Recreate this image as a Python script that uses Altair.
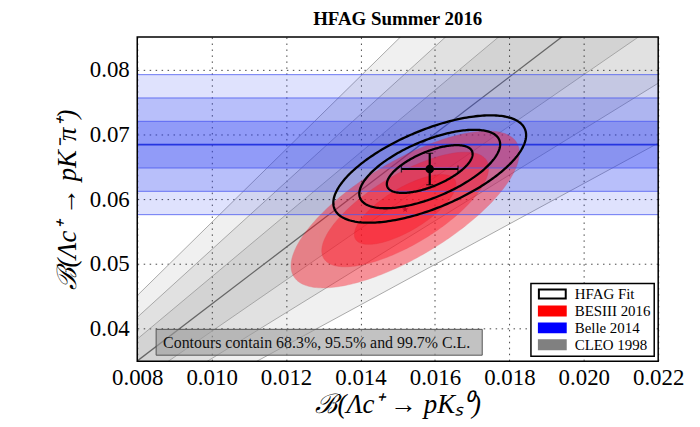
import numpy as np
import pandas as pd
import altair as alt

# ---------------- data ----------------
title_text = "HFAG Summer 2016"
x_title = "ℬ(Λc⁺ → pKₛ⁰)"
y_title = "ℬ(Λc⁺ → pK⁻π⁺)"
x_ticks = [0.008, 0.010, 0.012, 0.014, 0.016, 0.018, 0.020, 0.022]
y_ticks = [0.04, 0.05, 0.06, 0.07, 0.08]
x_domain = [0.008, 0.022]
y_domain = [0.035, 0.085]

cl_percent = [68.3, 95.5, 99.7]          # 2D contour levels
sigma_multiples = [1, 2, 3]              # 1D band levels

fit_center = [0.01586, 0.06464]          # HFAG fit (x = pKs, y = pK-pi+)
fit_sigma = [0.00076, 0.00243]
fit_rho = 0.63

besiii_center = [0.0152, 0.0584]         # BESIII 2016
besiii_sigma = [0.00090, 0.00355]
besiii_rho = 0.72

belle_center = 0.0684                    # Belle 2014, B(pK-pi+)
belle_sigma = 0.0036

cleo_ratio_center = 4.38                 # CLEO 1998, B(pK-pi+)/B(pKs)
cleo_ratio_sigma = 0.42

legend_labels = ["HFAG Fit", "BESIII 2016", "Belle 2014", "CLEO 1998"]
legend_fill = ["white", "#ff0000", "#0000ff", "#808080"]
legend_stroke = ["black", "#ff0000", "#0000ff", "#808080"]
note_text = "Contours contain 68.3%, 95.5% and 99.7% C.L."

# ---------------- geometry built from the values ----------------
W, H = 524, 326
SERIF = "Liberation Serif"
k2d = [float(np.sqrt(-2.0 * np.log(1.0 - p / 100.0))) for p in cl_percent]
x_ends = [0.0, 0.03]

xs = alt.Scale(domain=x_domain, nice=False, zero=False)
ys = alt.Scale(domain=y_domain, nice=False, zero=False)

# CLEO diagonal bands (lines through the origin)
cleo_rows = []
for m in sorted(sigma_multiples, reverse=True):
    lo = cleo_ratio_center - m * cleo_ratio_sigma
    hi = cleo_ratio_center + m * cleo_ratio_sigma
    for xv in x_ends:
        cleo_rows.append({"band": m, "x": xv, "y": lo * xv, "y2": hi * xv})
cleo_df = pd.DataFrame(cleo_rows)

cleo_line_rows = []
for j in range(-max(sigma_multiples), max(sigma_multiples) + 1):
    r = cleo_ratio_center + j * cleo_ratio_sigma
    for xv in x_ends:
        cleo_line_rows.append({"line": j, "center": j == 0, "x": xv, "y": r * xv})
cleo_line_df = pd.DataFrame(cleo_line_rows)

# Belle horizontal bands
belle_df = pd.DataFrame([
    {"band": m, "y": belle_center - m * belle_sigma, "y2": belle_center + m * belle_sigma}
    for m in sigma_multiples
])
belle_line_df = pd.DataFrame([
    {"y": belle_center + j * belle_sigma, "center": j == 0}
    for j in range(-max(sigma_multiples), max(sigma_multiples) + 1)
])

# BESIII filled ellipses (area between lower and upper chord)
def ellipse_area(center, sigma, rho, k, n=121):
    th = np.linspace(np.pi, 0.0, n)
    a = k * np.cos(th)
    half = np.sqrt(1 - rho ** 2) * np.sqrt(np.clip(k ** 2 - a ** 2, 0, None))
    return pd.DataFrame({
        "x": center[0] + a * sigma[0],
        "y": center[1] + (rho * a - half) * sigma[1],
        "y2": center[1] + (rho * a + half) * sigma[1],
    })

bes_parts = []
for k, p in sorted(zip(k2d, cl_percent), reverse=True):
    d = ellipse_area(besiii_center, besiii_sigma, besiii_rho, k)
    d["level"] = p
    bes_parts.append(d)
bes_df = pd.concat(bes_parts, ignore_index=True)

# HFAG fit contour lines
def ellipse_line(center, sigma, rho, k, n=241):
    t = np.linspace(0, 2 * np.pi, n)
    a = k * np.cos(t)
    b = k * (rho * np.cos(t) + np.sqrt(1 - rho ** 2) * np.sin(t))
    return pd.DataFrame({"x": center[0] + a * sigma[0], "y": center[1] + b * sigma[1], "t": np.arange(n)})

fit_parts = []
for k, p in zip(k2d, cl_percent):
    d = ellipse_line(fit_center, fit_sigma, fit_rho, k)
    d["level"] = p
    fit_parts.append(d)
fit_df = pd.concat(fit_parts, ignore_index=True)

fit_pt = pd.DataFrame({
    "x": [fit_center[0]], "y": [fit_center[1]],
    "xlo": [fit_center[0] - fit_sigma[0]], "xhi": [fit_center[0] + fit_sigma[0]],
    "ylo": [fit_center[1] - fit_sigma[1]], "yhi": [fit_center[1] + fit_sigma[1]],
})
fit_caps_h = pd.DataFrame({"x": [fit_center[0] - fit_sigma[0], fit_center[0] + fit_sigma[0]],
                           "y": [fit_center[1]] * 2})
fit_caps_v = pd.DataFrame({"x": [fit_center[0]] * 2,
                           "y": [fit_center[1] - fit_sigma[1], fit_center[1] + fit_sigma[1]]})
bes_pt = pd.DataFrame({"x": [besiii_center[0]], "y": [besiii_center[1]]})

# star symbol path
ang = np.arange(10) * np.pi / 5 - np.pi / 2
rad = np.where(np.arange(10) % 2 == 0, 1.0, 0.42)
star_path = "M" + "L".join(f"{r*np.cos(a):.3f},{r*np.sin(a):.3f}" for r, a in zip(rad, ang)) + "Z"

# ---------------- layers ----------------
X = lambda: alt.X("x:Q", scale=xs, title=x_title,
                  axis=alt.Axis(values=x_ticks, format=".3f", labelFlush=False, labelOverlap=False))
Y = lambda: alt.Y("y:Q", scale=ys, title=y_title,
                  axis=alt.Axis(values=y_ticks, format=".2f", labelFlush=False, labelOverlap=False))

cleo_area = alt.Chart(cleo_df).mark_area(color="black", opacity=0.06, clip=True).encode(
    x=X(), y=Y(), y2="y2:Q", detail="band:N")

cleo_lines = alt.Chart(cleo_line_df).transform_filter("!datum.center").mark_line(
    color="#a0a0a0", strokeWidth=0.9, clip=True).encode(x=X(), y=Y(), detail="line:N")
cleo_center = alt.Chart(cleo_line_df).transform_filter("datum.center").mark_line(
    color="#666666", strokeWidth=1.3, clip=True).encode(x=X(), y=Y(), detail="line:N")

belle_rect = alt.Chart(belle_df).mark_rect(color="#2a3cf2", clip=True).encode(
    x=alt.value(0), x2=alt.value(W), y=Y(), y2="y2:Q",
    opacity=alt.Opacity("band:O", scale=alt.Scale(domain=[1, 2, 3], range=[0.27, 0.15, 0.09]),
                        legend=None))

bes_area = alt.Chart(bes_df).mark_area(
    color="#ff1020", opacity=0.42, stroke="#e00010", strokeWidth=0.8, strokeOpacity=0.5,
    clip=True).encode(x=X(), y=Y(), y2="y2:Q", detail="level:N")

belle_lines = alt.Chart(belle_line_df).transform_filter("!datum.center").mark_rule(
    color="#4a5af0", strokeWidth=1.0, opacity=0.8).encode(y=Y())
belle_center_line = alt.Chart(belle_line_df).transform_filter("datum.center").mark_rule(
    color="#2535e0", strokeWidth=1.6).encode(y=Y())

bes_star = alt.Chart(bes_pt).mark_point(shape=star_path, filled=True, color="#c8102e",
                                        size=45, opacity=1).encode(x=X(), y=Y())

fit_lines = alt.Chart(fit_df).mark_line(color="black", strokeWidth=2.3, clip=True).encode(
    x=X(), y=Y(), detail="level:N", order="t:Q")

fit_xerr = alt.Chart(fit_pt).mark_rule(color="black", strokeWidth=2.2).encode(
    x=alt.X("xlo:Q", scale=xs), x2="xhi:Q", y=alt.Y("y:Q", scale=ys))
fit_yerr = alt.Chart(fit_pt).mark_rule(color="black", strokeWidth=2.2).encode(
    y=alt.Y("ylo:Q", scale=ys), y2="yhi:Q", x=alt.X("x:Q", scale=xs))
cap_h = alt.Chart(fit_caps_h).mark_tick(color="black", orient="vertical", size=7, thickness=1.3).encode(
    x=X(), y=Y())
cap_v = alt.Chart(fit_caps_v).mark_tick(color="black", orient="horizontal", size=7, thickness=1.3).encode(
    x=X(), y=Y())
fit_dot = alt.Chart(fit_pt).mark_point(filled=True, color="black", size=75, opacity=1).encode(x=X(), y=Y())

note_df = pd.DataFrame({"t": [note_text]})
note_box = alt.Chart(note_df).mark_rect(fill="#9c9c9c", fillOpacity=0.62, stroke="#555555",
                                        strokeWidth=1).encode(
    x=alt.value(19), x2=alt.value(347), y=alt.value(294), y2=alt.value(320))
note_txt = alt.Chart(note_df).mark_text(align="left", baseline="middle", font=SERIF,
                                        fontSize=16, color="#111111").encode(
    x=alt.value(26), y=alt.value(307.5), text="t:N")

frame = alt.Chart(note_df).mark_rect(fill=None, fillOpacity=0, stroke="black", strokeWidth=1.5).encode(
    x=alt.value(0), x2=alt.value(W), y=alt.value(0), y2=alt.value(H))

leg_df = pd.DataFrame({"series": legend_labels})
rect_path = "M-2.7,-0.9H2.7V0.9H-2.7Z"
leg = alt.Legend(title=None, orient="none", legendX=396, legendY=248, direction="vertical",
                 symbolType=rect_path, symbolSize=100, symbolStrokeWidth=2, symbolOffset=11,
                 labelOffset=15, labelFont=SERIF, labelFontSize=15, labelColor="black",
                 rowPadding=0, padding=3, fillColor="white", strokeColor="black", zindex=3)
legend_layer = alt.Chart(leg_df).mark_point(filled=True, clip=True, opacity=1).encode(
    x=alt.value(-200), y=alt.value(-200),
    fill=alt.Fill("series:N", scale=alt.Scale(domain=legend_labels, range=legend_fill), legend=leg),
    stroke=alt.Stroke("series:N", scale=alt.Scale(domain=legend_labels, range=legend_stroke), legend=leg),
)

chart = alt.layer(
    cleo_area, cleo_lines, cleo_center, belle_rect, bes_area, belle_lines, belle_center_line,
    bes_star, fit_lines, fit_xerr, fit_yerr, cap_h, cap_v, fit_dot, note_box, note_txt, frame,
    legend_layer,
).resolve_scale(fill="independent", stroke="independent").properties(
    width=W, height=H,
    title=alt.TitleParams(title_text, font=SERIF, fontSize=19, fontWeight="bold", offset=7,
                          anchor="middle", color="black"),
    autosize=alt.AutoSizeParams(type="none"),
    padding={"left": 130, "top": 28, "right": 34, "bottom": 63},
).configure_view(stroke=None).configure_axis(
    labelFont=SERIF, labelFontSize=23, labelColor="black",
    titleFont=SERIF, titleFontSize=27, titleFontStyle="italic", titleFontWeight="normal",
    titleColor="black",
    grid=True, gridColor="#333333", gridDash=[1.5, 4.5], gridWidth=1, gridOpacity=0.9,
    ticks=False, domain=False, zindex=1,
).configure_axisX(labelPadding=5, titlePadding=3).configure_axisY(
    labelPadding=8, titlePadding=8
).configure_legend(strokeWidth=1.5)

chart.save("out.html", embed_options={"renderer": "svg", "actions": False})
